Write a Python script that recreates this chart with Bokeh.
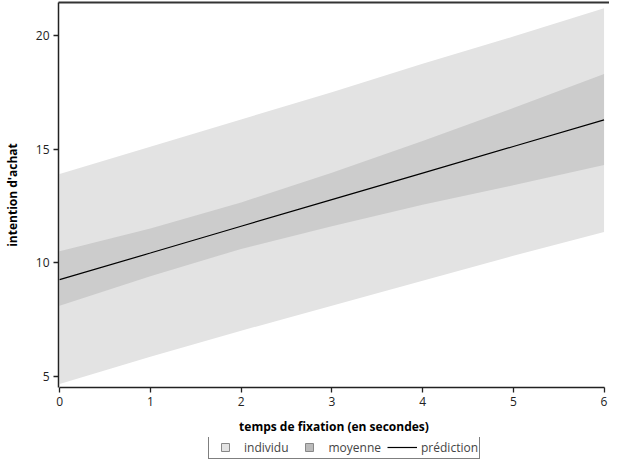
import math
from bokeh.plotting import figure
from bokeh.layouts import column
from bokeh.models import Range1d, LinearAxis, Legend, LegendItem, FixedTicker, ColumnDataSource
from bokeh.embed import file_html
from bokeh.resources import INLINE

# data
x_vals = [0, 1, 2, 3, 4, 5, 6]
pred = [9.25, 10.42, 11.6, 12.77, 13.94, 15.11, 16.28]
mean_lo = [8.1, 9.4, 10.6, 11.6, 12.55, 13.4, 14.3]
mean_hi = [10.5, 11.5, 12.65, 13.95, 15.35, 16.8, 18.3]
ind_lo = [4.65, 5.85, 7.0, 8.1, 9.2, 10.3, 11.35]
ind_hi = [13.9, 15.1, 16.3, 17.5, 18.75, 19.95, 21.2]
x_ticks = [0, 1, 2, 3, 4, 5, 6]
y_ticks = [5, 10, 15, 20]
labels = ["individu", "moyenne", "prédiction"]

FONT = "Open Sans"
C_IND = "#e3e3e3"
C_MEAN = "#cccccc"

src = ColumnDataSource(dict(x=x_vals, pred=pred, mlo=mean_lo, mhi=mean_hi,
                            ilo=ind_lo, ihi=ind_hi))

p = figure(width=609, height=437, output_backend="svg", toolbar_location=None,
           x_range=Range1d(-0.012, 6.06), y_range=Range1d(4.5, 21.45),
           min_border_left=52, min_border_right=0, min_border_top=2,
           min_border_bottom=40)
p.outline_line_color = None
p.grid.visible = False
p.background_fill_color = "white"
p.border_fill_color = "white"

p.varea(x="x", y1="ilo", y2="ihi", source=src, fill_color=C_IND)
p.varea(x="x", y1="mlo", y2="mhi", source=src, fill_color=C_MEAN)
p.line("x", "pred", source=src, line_color="black", line_width=1.2)

for ax in (p.xaxis[0], p.yaxis[0]):
    ax.axis_line_color = "#222222"
    ax.axis_line_width = 1.5
    ax.major_tick_line_color = "#222222"
    ax.major_tick_line_width = 1.3
    ax.major_tick_out = 5
    ax.major_tick_in = 0
    ax.minor_tick_line_color = None
    ax.major_label_text_font = FONT
    ax.major_label_text_font_size = "12px"
    ax.major_label_text_color = "#222222"
    ax.major_label_standoff = 4
    ax.axis_label_text_font = FONT
    ax.axis_label_text_font_size = "12px"
    ax.axis_label_text_font_style = "bold"
    ax.axis_label_text_color = "black"

p.xaxis.ticker = FixedTicker(ticks=x_ticks)
p.yaxis.ticker = FixedTicker(ticks=y_ticks)
p.xaxis.bounds = (0, 6)
p.xaxis.axis_label = "temps de fixation (en secondes)"
p.yaxis.axis_label = "intention d'achat"
p.xaxis.axis_label_standoff = 9
p.yaxis.axis_label_standoff = 12
p.yaxis.major_label_orientation = "horizontal"

top = LinearAxis(ticker=FixedTicker(ticks=[]), major_tick_line_color=None,
                 minor_tick_line_color=None, axis_line_color="#333333",
                 axis_line_width=2, major_label_standoff=0)
p.add_layout(top, "above")

# legend strip below the chart
lg = figure(width=609, height=22, output_backend="svg", toolbar_location=None,
            x_range=Range1d(0, 1), y_range=Range1d(0, 1),
            x_axis_type=None, y_axis_type=None, min_border=0)
lg.outline_line_color = None
lg.grid.visible = False
nan_src = ColumnDataSource(dict(x=[math.nan], y=[math.nan]))
sq1 = lg.scatter("x", "y", source=nan_src, marker="square", size=8,
                 fill_color=C_IND, line_color="#888888", line_width=1)
sq2 = lg.scatter("x", "y", source=nan_src, marker="square", size=8,
                 fill_color="#bbbbbb", line_color="#888888", line_width=1)
ln = lg.line("x", "y", source=nan_src, line_color="black", line_width=1.2)

legend = Legend(items=[LegendItem(label=labels[0], renderers=[sq1]),
                       LegendItem(label=labels[1], renderers=[sq2]),
                       LegendItem(label=labels[2], renderers=[ln])],
                orientation="horizontal", location=(150, 0),
                border_line_color="black", border_line_width=1,
                background_fill_color="white", background_fill_alpha=1,
                padding=1, spacing=6, label_standoff=4, margin=0,
                glyph_width=30, glyph_height=20,
                label_text_font=FONT, label_text_font_size="12px",
                label_height=16)
lg.add_layout(legend, "center")

layout = column(p, lg, spacing=0)
open("out.html", "w").write(file_html(layout, INLINE))
